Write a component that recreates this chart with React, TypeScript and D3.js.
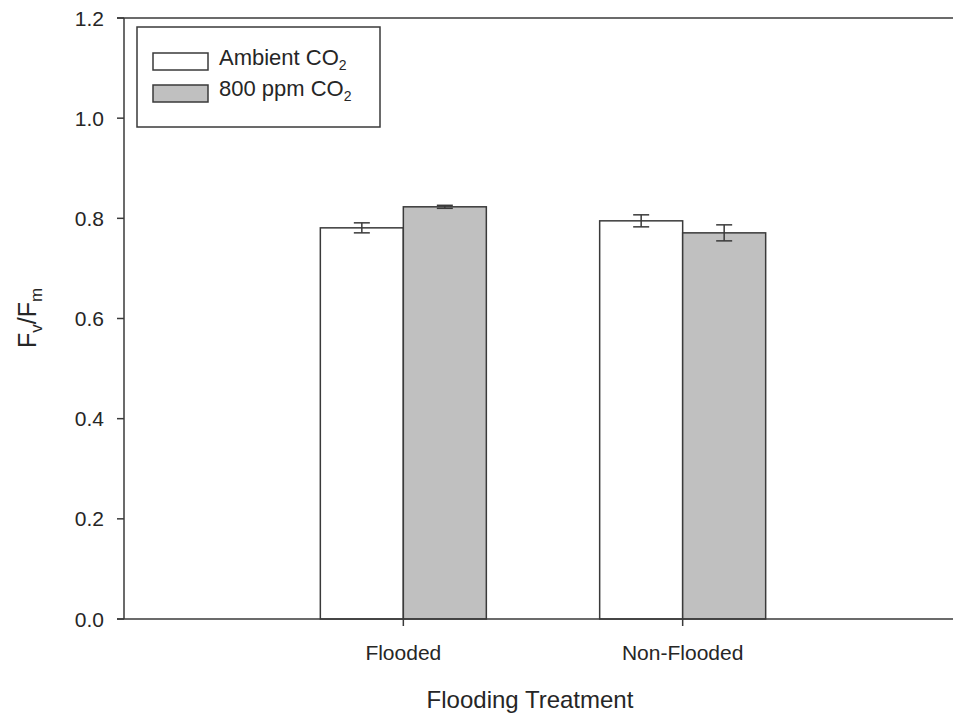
import React from "react";
import * as d3 from "d3";

const categories = ["Flooded", "Non-Flooded"];
const seriesNames = ["Ambient CO", "800 ppm CO"];
const ambientMeans = [0.781, 0.795];
const ambientErr = [0.01, 0.012];
const elevatedMeans = [0.823, 0.771];
const elevatedErr = [0.003, 0.016];
const yTicks = [0, 0.2, 0.4, 0.6, 0.8, 1.0, 1.2];

const W = 953;
const H = 721;
const left = 124;
const top = 18;
const bottom = 619;

export default function App() {
  const y = d3.scaleLinear().domain([0, 1.2]).range([bottom, top]);
  const x = d3.scaleLinear().domain([0, 3]).range([left, 962]);
  const bw = 83;
  const font = "'Liberation Sans', Arial, sans-serif";
  const stroke = "#3a3a3a";
  const textFill = "#262626";
  const series = [
    { means: ambientMeans, err: ambientErr, fill: "#ffffff", off: -1 },
    { means: elevatedMeans, err: elevatedErr, fill: "#c0c0c0", off: 0 },
  ];
  return (
    <svg width={W} height={H} style={{ position: "absolute", left: 0, top: 0 }} fontFamily={font}>
      <rect width={W} height={H} fill="#fff" />
      {series.map((s, si) =>
        categories.map((c, ci) => {
          const cx = x(ci + 1);
          const x0 = cx + s.off * bw;
          const yv = y(s.means[ci]);
          const ye1 = y(s.means[ci] + s.err[ci]);
          const ye2 = y(s.means[ci] - s.err[ci]);
          const mx = x0 + bw / 2;
          return (
            <g key={`${si}-${ci}`}>
              <rect x={x0} y={yv} width={bw} height={bottom - yv} fill={s.fill} stroke={stroke} strokeWidth={1.5} />
              <line x1={mx} x2={mx} y1={ye1} y2={ye2} stroke={stroke} strokeWidth={1.5} />
              <line x1={mx - 8} x2={mx + 8} y1={ye1} y2={ye1} stroke={stroke} strokeWidth={1.5} />
              <line x1={mx - 8} x2={mx + 8} y1={ye2} y2={ye2} stroke={stroke} strokeWidth={1.5} />
            </g>
          );
        })
      )}
      <line x1={left} x2={left} y1={top} y2={bottom} stroke={stroke} strokeWidth={1.5} />
      <line x1={left - 7} x2={W} y1={bottom} y2={bottom} stroke={stroke} strokeWidth={1.5} />
      <line x1={left - 7} x2={W} y1={top} y2={top} stroke={stroke} strokeWidth={1.5} />
      {yTicks.map((t) => (
        <g key={t}>
          <line x1={left - 7} x2={left} y1={y(t)} y2={y(t)} stroke={stroke} strokeWidth={1.5} />
          <text x={104} y={y(t) + 7.5} textAnchor="end" fontSize={21} fill={textFill}>
            {t.toFixed(1)}
          </text>
        </g>
      ))}
      {categories.map((c, ci) => (
        <g key={c}>
          <line x1={x(ci + 1)} x2={x(ci + 1)} y1={bottom} y2={bottom + 7} stroke={stroke} strokeWidth={1.5} />
          <text x={x(ci + 1)} y={660} textAnchor="middle" fontSize={21} fill={textFill}>
            {c}
          </text>
        </g>
      ))}
      <text x={530} y={708} textAnchor="middle" fontSize={24} fill={textFill}>
        Flooding Treatment
      </text>
      <text transform="translate(36,318) rotate(-90)" textAnchor="middle" fontSize={25} fill={textFill}>
        F
        <tspan fontSize={17} dy={6}>v</tspan>
        <tspan dy={-6}>/F</tspan>
        <tspan fontSize={17} dy={6}>m</tspan>
      </text>
      <rect x={137} y={27} width={243} height={100} fill="#fff" stroke={stroke} strokeWidth={1.5} />
      {seriesNames.map((n, i) => (
        <g key={n}>
          <rect x={153} y={53 + i * 32} width={55} height={17} fill={series[i].fill} stroke={stroke} strokeWidth={1.5} />
          <text x={219} y={65 + i * 31} fontSize={22} fill={textFill}>
            {n}
            <tspan fontSize={14} dy={5}>2</tspan>
          </text>
        </g>
      ))}
    </svg>
  );
}
